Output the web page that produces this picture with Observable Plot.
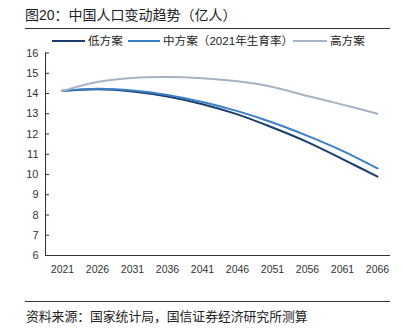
<!DOCTYPE html>
<html><head><meta charset="utf-8">
<script src="https://cdn.jsdelivr.net/npm/d3@7"></script>
<script src="https://cdn.jsdelivr.net/npm/@observablehq/plot@0.6"></script>
<style>
body{margin:0;background:#fff;}
#wrap{position:relative;width:403px;height:330px;overflow:hidden;font-family:"Liberation Sans","Noto Sans CJK SC",sans-serif;color:#222;}
#wrap svg{position:absolute;left:0;top:0;}
.abs{position:absolute;white-space:nowrap;z-index:2;}
.title{left:25px;top:5px;font-size:14px;line-height:20px;color:#222;}
.hr{height:1px;background:#333;left:25px;width:365px;}
.leg{font-size:11.6px;line-height:16px;top:33px;color:#222;}
.sw{height:2px;top:40px;}
.cap{left:26px;top:308px;font-size:12.8px;line-height:18px;color:#222;}
</style>
</head><body>
<div id="wrap">
  <div class="abs title">图20：中国人口变动趋势（亿人）</div>
  <div class="abs hr" style="top:28px"></div>
  <div id="legend"></div>
  <div class="abs hr" style="top:301px"></div>
  <div class="abs cap">资料来源：国家统计局，国信证券经济研究所测算</div>
</div>
<script>
const years = [2021, 2026, 2031, 2036, 2041, 2046, 2051, 2056, 2061, 2066];
const low  = [14.13, 14.21, 14.10, 13.85, 13.47, 12.97, 12.32, 11.60, 10.76, 9.89];
const mid  = [14.13, 14.23, 14.15, 13.93, 13.58, 13.13, 12.57, 11.91, 11.17, 10.30];
const high = [14.13, 14.57, 14.77, 14.81, 14.75, 14.60, 14.32, 13.88, 13.45, 13.00];
const seriesNames = ["低方案", "中方案（2021年生育率）", "高方案"];
const seriesColors = ["#1b3f6e", "#3d7fc6", "#a5b3c6"];
const yTicks = [6, 7, 8, 9, 10, 11, 12, 13, 14, 15, 16];

const rows = [];
[low, mid, high].forEach((vals, s) => {
  vals.forEach((v, i) => rows.push({year: years[i], value: v, series: seriesNames[s]}));
});

const chart = Plot.plot({
  width: 403,
  height: 330,
  marginTop: 52.5,
  marginBottom: 75,
  marginLeft: 45,
  marginRight: 13,
  style: {fontFamily: '"Liberation Sans","Noto Sans CJK SC",sans-serif', fontSize: "11px", color: "#333", background: "transparent"},
  x: {domain: [2021, 2066], insetLeft: 17, insetRight: 13},
  y: {domain: [6, 16]},
  color: {domain: seriesNames, range: seriesColors},
  marks: [
    Plot.frame({anchor: "left", stroke: "#333"}),
    Plot.ruleY([6], {stroke: "#333"}),
    Plot.tickY(yTicks, {y: d => d, insetRight: 341, stroke: "#333"}),
    Plot.axisY({ticks: yTicks, tickSize: 0, tickPadding: 7, label: null, fontSize: 11}),
    Plot.axisX({ticks: years, tickSize: 0, tickPadding: 10, tickFormat: d => String(d), label: null, fontSize: 10.5}),
    Plot.line(rows, {x: "year", y: "value", z: "series", stroke: "series", strokeWidth: 2, curve: "catmull-rom"})
  ]
});
document.getElementById("wrap").appendChild(chart);

// legend
const legendPos = [[52, 33, 88], [128, 32, 163], [293, 34, 330]];
const leg = document.getElementById("legend");
seriesNames.forEach((name, i) => {
  const [lx, lw, tx] = legendPos[i];
  const sw = document.createElement("div");
  sw.className = "abs sw";
  sw.style.left = lx + "px"; sw.style.width = lw + "px"; sw.style.background = seriesColors[i];
  leg.appendChild(sw);
  const t = document.createElement("div");
  t.className = "abs leg";
  t.style.left = tx + "px";
  t.textContent = name;
  leg.appendChild(t);
});
</script>
</body></html>
